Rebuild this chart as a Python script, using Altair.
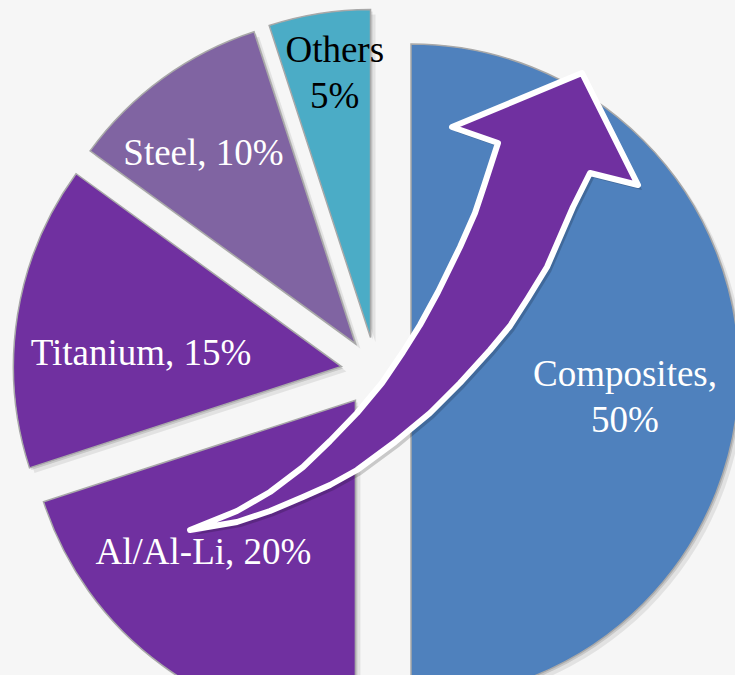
import math
import altair as alt
import pandas as pd

# ---- data ----
categories = ["Composites", "Al/Al-Li", "Titanium", "Steel", "Others"]
shares = [50, 20, 15, 10, 5]
labels = ["Composites,\n50%", "Al/Al-Li, 20%", "Titanium, 15%", "Steel, 10%", "Others\n5%"]

# ---- styles / layout ----
colors = ["#4F81BD", "#7030A0", "#7030A0", "#8064A2", "#4BACC6"]
label_colors = ["white", "white", "white", "white", "black"]
W, H = 735, 675
CX, CY = 376, 372          # pie centre (pixels)
R = 328                    # pie radius
EXPLODE = 35               # explode distance
LABEL_R = 216              # label radius
nudges = {                 # label fine placement (dx, dy)
    "Composites": (-2, 3),
    "Al/Al-Li": (-25, -22),
    "Titanium": (13, 21),
    "Steel": (-25, -15),
    "Others": (-2, -73),
}
FONT = "Liberation Serif"

# decorative arrow outline (annotation, pixel path)
ARROW_PATH = (
    "M190,530 L237,511 L270,492 L303,467 L330,441 L357,413 L382,383 L403,352 "
    "L420,325 L438,292 L460,247 L475,213 L485,183 L498,143 "
    "L452,127 L582,73 L638,185 L590,173 "
    "L573,207 L547,267 L528,298 L510,326 L490,350 L460,383 L430,413 L395,442 "
    "L357,470 L330,485 L303,497 L270,511 L237,522 Z"
)

df = pd.DataFrame({
    "category": categories,
    "share": shares,
    "label": labels,
    "order": list(range(len(categories))),
})

base = (
    alt.Chart(df)
    .transform_window(cum="sum(share)", sort=[alt.SortField("order")], frame=[None, 0])
    .transform_calculate(start="datum.cum - datum.share")
    .transform_calculate(mid="PI * (datum.start + datum.cum) / 100")
    .transform_calculate(cx=f"{CX} + {EXPLODE} * sin(datum.mid)")
    .transform_calculate(cy=f"{CY} - {EXPLODE} * cos(datum.mid)")
)

theta = alt.Theta("start:Q", scale=alt.Scale(domain=[0, 100], range=[0, 2 * math.pi]), stack=None)
theta2 = alt.Theta2("cum:Q")
color = alt.Color("category:N", scale=alt.Scale(domain=categories, range=colors), legend=None)

def shadow_layer(off, op):
    return (
        base.transform_calculate(sx=f"datum.cx + {off}")
        .transform_calculate(sy=f"datum.cy + {off}")
        .mark_arc(radius=R, color="black", opacity=op)
        .encode(
            x=alt.X("sx:Q", scale=None, axis=None),
            y=alt.Y("sy:Q", scale=None, axis=None),
            theta=theta,
            theta2=theta2,
        )
    )

shadows = [shadow_layer(2, 0.12), shadow_layer(5, 0.08)]

slices = base.mark_arc(radius=R, stroke="#a8a8a8", strokeWidth=1.5).encode(
    x=alt.X("cx:Q", scale=None, axis=None),
    y=alt.Y("cy:Q", scale=None, axis=None),
    theta=theta,
    theta2=theta2,
    color=color,
)

label_base = (
    base.transform_calculate(lx=f"datum.cx + {LABEL_R} * sin(datum.mid)")
    .transform_calculate(ly=f"datum.cy - {LABEL_R} * cos(datum.mid)")
)

texts = []
for cat, lc in zip(categories, label_colors):
    dx, dy = nudges[cat]
    texts.append(
        label_base.transform_filter(alt.datum.category == cat)
        .mark_text(
            font=FONT, fontSize=37, color=lc, align="center", baseline="middle",
            lineBreak="\n", lineHeight=46, dx=dx, dy=dy,
        )
        .encode(
            x=alt.X("lx:Q", scale=None, axis=None),
            y=alt.Y("ly:Q", scale=None, axis=None),
            text="label:N",
        )
    )

anchor = pd.DataFrame({"k": [0]})
arrow_shadow = alt.Chart(anchor).mark_point(
    shape=ARROW_PATH, size=4, filled=True, color="black", opacity=0.18,
    strokeWidth=0,
).encode(x=alt.value(4), y=alt.value(5))

arrow = alt.Chart(anchor).mark_point(
    shape=ARROW_PATH, size=4, filled=True, color="#7030A0", fill="#7030A0",
    stroke="white", strokeWidth=6, strokeJoin="round", opacity=1,
).encode(x=alt.value(0), y=alt.value(0))

chart = (
    alt.layer(*shadows, slices, *texts, arrow_shadow, arrow)
    .properties(
        width=W, height=H, padding=0,
        autosize=alt.AutoSizeParams(type="none"),
        background="#f6f6f6",
    )
    .configure_view(stroke=None)
)

chart.save("out.html", embed_options={"renderer": "svg", "actions": False})
